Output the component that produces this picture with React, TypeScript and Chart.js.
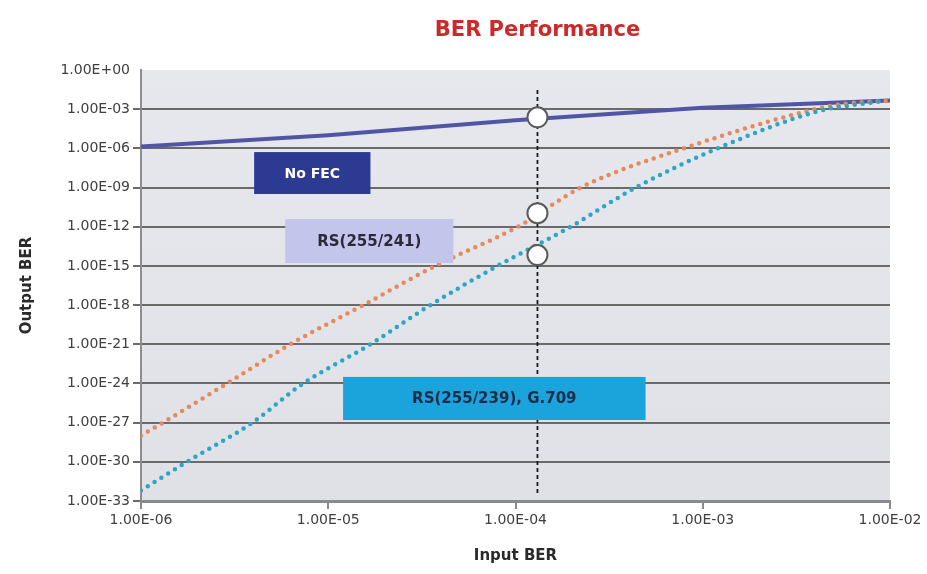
import React, { useEffect, useRef } from 'react';
import { Chart, registerables } from 'chart.js';

Chart.register(...registerables);

const chartTitle = 'BER Performance';
const xAxisTitle = 'Input BER';
const yAxisTitle = 'Output BER';

const xTickValues = [1e-6, 1e-5, 1e-4, 1e-3, 1e-2];
const xTickLabels = ['1.00E-06', '1.00E-05', '1.00E-04', '1.00E-03', '1.00E-02'];
const yTickValues = [1e0, 1e-3, 1e-6, 1e-9, 1e-12, 1e-15, 1e-18, 1e-21, 1e-24, 1e-27, 1e-30, 1e-33];
const yTickLabels = [
  '1.00E+00', '1.00E-03', '1.00E-06', '1.00E-09', '1.00E-12', '1.00E-15',
  '1.00E-18', '1.00E-21', '1.00E-24', '1.00E-27', '1.00E-30', '1.00E-33',
];

const seriesNames = ['No FEC', 'RS(255/241)', 'RS(255/239), G.709'];

const noFecInput = [1e-6, 1e-5, 1e-4, 1e-3, 1e-2];
const noFecOutput = [1.4e-6, 1.0e-5, 1.4e-4, 1.3e-3, 4.6e-3];

const rs241Input = [1e-6, 1.31e-6, 2.88e-6, 6.27e-6, 1.54e-5, 3.73e-5, 1.03e-4, 2.23e-4, 7.91e-4, 3.98e-3, 5.6e-3, 1e-2];
const rs241Output = [1e-28, 1e-27, 1e-24, 1e-21, 1e-18, 1e-15, 1e-12, 1e-9, 1e-6, 1e-3, 2.5e-3, 4.5e-3];

const rs239Input = [1e-6, 1.76e-6, 3.93e-6, 7.35e-6, 1.68e-5, 3.51e-5, 8.02e-5, 1.97e-4, 4.39e-4, 1.2e-3, 4.27e-3, 7.0e-3, 9.5e-3];
const rs239Output = [6.3e-33, 1e-30, 1e-27, 1e-24, 1e-21, 1e-18, 1e-15, 1e-12, 1e-9, 1e-6, 7.9e-4, 2.5e-3, 4.5e-3];

const markerInput = 1.31e-4;
const markerOutputs = [2.4e-4, 1.1e-11, 6.8e-15];
const refLineOutputs = [3e-2, 4e-33];

// label boxes in data coordinates [xMin, xMax, yTop, yBottom]
const labelBoxes = [
  { text: seriesNames[0], x0: 4.02e-6, x1: 1.68e-5, y0: 5.2e-7, y1: 3.2e-10, fill: '#2c3a92', color: '#ffffff', size: 14 },
  { text: seriesNames[1], x0: 5.89e-6, x1: 4.66e-5, y0: 3.9e-12, y1: 1.66e-15, fill: '#c4c5ea', color: '#2a2a3a', size: 15 },
  { text: seriesNames[2], x0: 1.2e-5, x1: 4.95e-4, y0: 3.16e-24, y1: 1.58e-27, fill: '#1ba3dc', color: '#1c2c4c', size: 15 },
];

const toPoints = (xs: number[], ys: number[]) => xs.map((x, i) => ({ x, y: ys[i] }));

const plotBackground = {
  id: 'plotBackground',
  beforeDraw(chart: any) {
    const { ctx, chartArea: a } = chart;
    ctx.save();
    const g = ctx.createLinearGradient(0, a.top, 0, a.bottom);
    g.addColorStop(0, '#e7e8ed');
    g.addColorStop(1, '#dfe1e7');
    ctx.fillStyle = g;
    ctx.fillRect(a.left, a.top, a.right - a.left, a.bottom - a.top);
    ctx.restore();
  },
};

const boxesAndTitle = {
  id: 'boxesAndTitle',
  afterDatasetsDraw(chart: any) {
    const { ctx, scales } = chart;
    const xs = scales.x;
    const ys = scales.y;
    ctx.save();
    labelBoxes.forEach((b) => {
      const l = xs.getPixelForValue(b.x0);
      const r = xs.getPixelForValue(b.x1);
      const t = ys.getPixelForValue(b.y0);
      const bt = ys.getPixelForValue(b.y1);
      ctx.fillStyle = b.fill;
      ctx.fillRect(l, t, r - l, bt - t);
      ctx.fillStyle = b.color;
      ctx.font = `bold ${b.size}px "DejaVu Sans"`;
      ctx.textAlign = 'center';
      ctx.textBaseline = 'middle';
      ctx.fillText(b.text, (l + r) / 2, (t + bt) / 2 + 1);
    });
    ctx.restore();
  },
  afterDraw(chart: any) {
    const { ctx, chartArea: a } = chart;
    ctx.save();
    ctx.fillStyle = '#cc2a2a';
    ctx.font = 'bold 21px "DejaVu Sans"';
    ctx.textAlign = 'center';
    ctx.textBaseline = 'middle';
    ctx.fillText(chartTitle, (a.left + a.right) / 2 + 22, 31);
    ctx.restore();
  },
};

export default function App() {
  const ref = useRef<HTMLCanvasElement | null>(null);

  useEffect(() => {
    if (!ref.current) return;
    const tickFont = { family: '"DejaVu Sans"', size: 14 };
    const titleFont = { family: '"DejaVu Sans"', size: 15, weight: 'bold' as const };
    const chart = new Chart(ref.current, {
      type: 'line',
      data: {
        datasets: [
          {
            label: 'markers',
            data: markerOutputs.map((y) => ({ x: markerInput, y })),
            showLine: false,
            pointRadius: 10,
            pointBackgroundColor: '#ffffff',
            pointBorderColor: '#5a5a5a',
            pointBorderWidth: 2,
            order: 0,
          },
          {
            label: 'reference',
            data: refLineOutputs.map((y) => ({ x: markerInput, y })),
            borderColor: '#1a1a1a',
            borderWidth: 1.8,
            borderDash: [4, 3],
            pointRadius: 0,
            order: 1,
          },
          {
            label: seriesNames[0],
            data: toPoints(noFecInput, noFecOutput),
            borderColor: '#5055a6',
            borderWidth: 4,
            pointRadius: 0,
            order: 4,
          },
          {
            label: seriesNames[1],
            data: toPoints(rs241Input, rs241Output),
            borderColor: '#e58a5c',
            borderWidth: 4.5,
            borderDash: [0, 8],
            borderCapStyle: 'round',
            cubicInterpolationMode: 'monotone',
            pointRadius: 0,
            order: 3,
          },
          {
            label: seriesNames[2],
            data: toPoints(rs239Input, rs239Output),
            borderColor: '#2ea5c2',
            borderWidth: 4.5,
            borderDash: [0, 8],
            borderCapStyle: 'round',
            cubicInterpolationMode: 'monotone',
            pointRadius: 0,
            order: 2,
          },
        ],
      },
      options: {
        responsive: false,
        animation: false,
        layout: { padding: { top: 70, right: 37, left: 0, bottom: 0 } },
        plugins: {
          legend: { display: false },
          tooltip: { enabled: false },
          title: { display: false },
        },
        scales: {
          x: {
            type: 'logarithmic',
            min: 1e-6,
            max: 1e-2,
            afterBuildTicks: (s: any) => {
              s.ticks = xTickValues.map((v) => ({ value: v }));
            },
            afterFit: (s: any) => {
              s.height = 73;
            },
            ticks: {
              callback: (v: any, i: number) => xTickLabels[i],
              font: tickFont,
              color: '#404040',
              padding: 3,
              maxRotation: 0,
              autoSkip: false,
            },
            grid: { drawOnChartArea: false, drawTicks: true, tickLength: 8, color: '#8a8a8a', lineWidth: 2 },
            border: { display: true, color: '#8a8a8a', width: 3 },
            title: { display: true, text: xAxisTitle, font: titleFont, color: '#2a2a2a', padding: { top: 0, bottom: 9 } },
          },
          y: {
            type: 'logarithmic',
            min: 1e-33,
            max: 1,
            afterBuildTicks: (s: any) => {
              s.ticks = yTickValues.map((v) => ({ value: v }));
            },
            afterFit: (s: any) => {
              s.width = 141;
            },
            ticks: {
              callback: (v: any, i: number) => yTickLabels[i],
              font: tickFont,
              color: '#404040',
              padding: 3,
              autoSkip: false,
            },
            grid: {
              color: (c: any) => (c.tick && c.tick.value === 1 ? 'rgba(0,0,0,0)' : '#6a6a6a'),
              lineWidth: 2,
              tickLength: 8,
              drawTicks: true,
            },
            border: { display: true, color: '#8d8d8d', width: 2 },
            title: { display: true, text: yAxisTitle, font: titleFont, color: '#2a2a2a', padding: { top: 18, bottom: 0 } },
          },
        },
      } as any,
      plugins: [plotBackground, boxesAndTitle],
    });
    return () => chart.destroy();
  }, []);

  return (
    <div style={{ position: 'absolute', left: 0, top: 0, width: 927, height: 574, background: '#ffffff' }}>
      <canvas ref={ref} width={927} height={574} style={{ display: 'block' }} />
    </div>
  );
}
